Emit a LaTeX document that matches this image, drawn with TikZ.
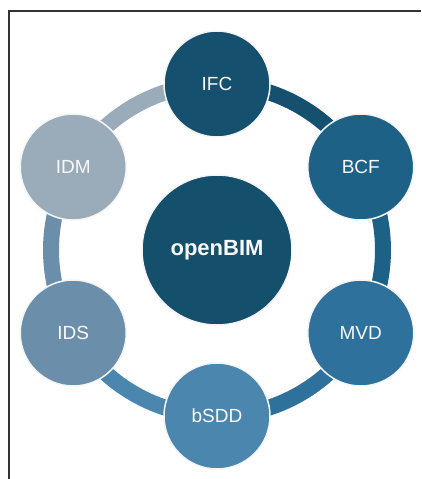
\documentclass[tikz,border=0pt]{standalone}
\usepackage{fontspec}
\setmainfont{Liberation Sans}
\definecolor{cBIM}{HTML}{144F6C}
\definecolor{cIFC}{HTML}{15506E}
\definecolor{cBCF}{HTML}{1D6286}
\definecolor{cMVD}{HTML}{2D719C}
\definecolor{cSDD}{HTML}{4A86AE}
\definecolor{cIDS}{HTML}{6B8FAB}
\definecolor{cIDM}{HTML}{9AABBA}
\begin{document}
\begin{tikzpicture}[x=1pt,y=1pt,
  sat/.style={circle, draw=white!92!gray, line width=1.5pt, minimum size=106pt, inner sep=0pt, text=white!95!gray, font=\fontsize{19}{21}\selectfont},
  hub/.style={circle, draw=white!92!gray, line width=1.5pt, minimum size=150pt, inner sep=0pt, text=white!95!gray, font=\fontsize{22}{25}\selectfont\bfseries},
  ring/.style={line width=16pt}]
\useasboundingbox (0,0) rectangle (421,479);
\fill[white] (0,0) rectangle (421,479);
\draw[line width=1.2pt, black!80] (9,0) -- (9,468) -- (421,468);
\coordinate (c) at (217,229);
\path (c) ++(90:166) coordinate (pIFC)
      (c) ++(30:166) coordinate (pBCF)
      (c) ++(-30:166) coordinate (pMVD)
      (c) ++(-90:166) coordinate (pSDD)
      (c) ++(-150:166) coordinate (pIDS)
      (c) ++(150:166) coordinate (pIDM);
\draw[ring, cIFC] (pIFC) arc[start angle=90, end angle=30, radius=166pt];
\draw[ring, cBCF] (pBCF) arc[start angle=30, end angle=-30, radius=166pt];
\draw[ring, cMVD] (pMVD) arc[start angle=-30, end angle=-90, radius=166pt];
\draw[ring, cSDD] (pSDD) arc[start angle=-90, end angle=-150, radius=166pt];
\draw[ring, cIDS] (pIDS) arc[start angle=-150, end angle=-210, radius=166pt];
\draw[ring, cIDM] (pIDM) arc[start angle=150, end angle=90, radius=166pt];
\node[sat, fill=cIFC] (ifc) at (pIFC) {IFC};
\node[sat, fill=cBCF] (bcf) at (pBCF) {BCF};
\node[sat, fill=cMVD] (mvd) at (pMVD) {MVD};
\node[sat, fill=cSDD] (bsdd) at (pSDD) {bSDD};
\node[sat, fill=cIDS] (ids) at (pIDS) {IDS};
\node[sat, fill=cIDM] (idm) at (pIDM) {IDM};
\node[hub, fill=cBIM] (bim) at (c) {openBIM};
\end{tikzpicture}
\end{document}
